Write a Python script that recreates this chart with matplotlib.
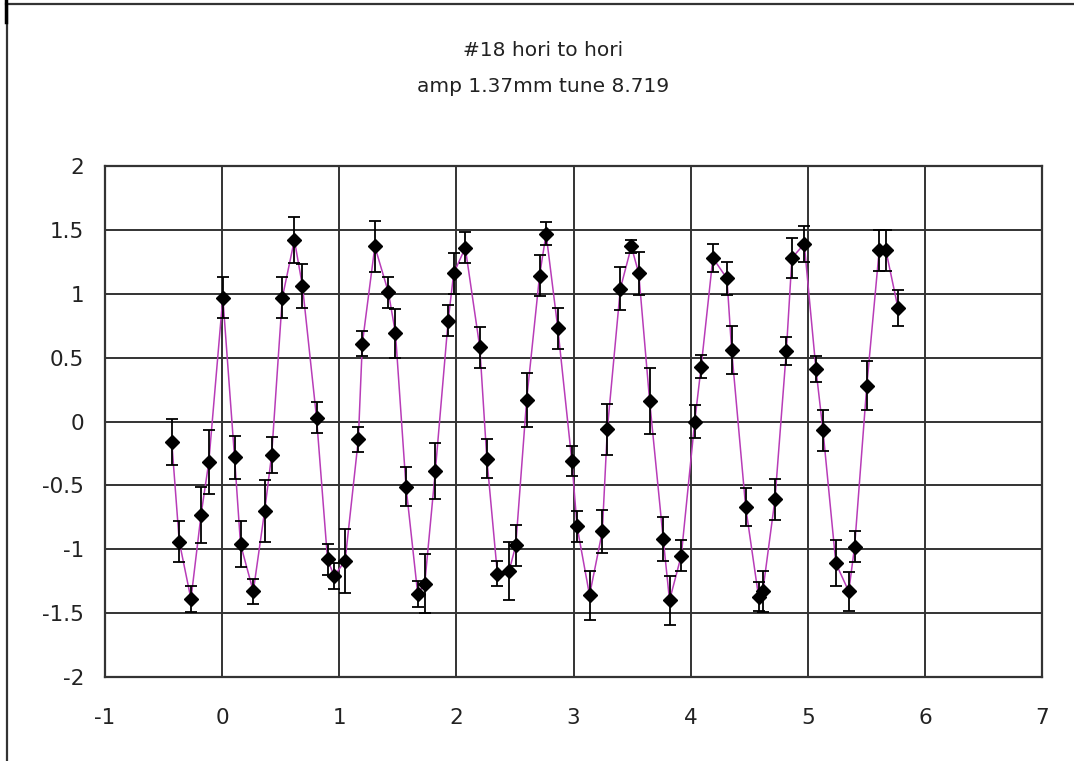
import matplotlib
matplotlib.use('Agg')
import matplotlib.pyplot as plt
from matplotlib.lines import Line2D

plt.rcParams['axes.unicode_minus'] = False
plt.rcParams['font.family'] = ['DejaVu Sans']

TITLE_1 = '#18 hori to hori'
TITLE_2 = 'amp 1.37mm tune 8.719'

# turn number vs. measured position, with per-point error
turns = [-0.43, -0.366, -0.266, -0.18, -0.114, 0.006, 0.106, 0.157, 0.266, 0.363,
         0.423, 0.514, 0.617, 0.686, 0.806, 0.90, 0.957, 1.05, 1.163, 1.197,
         1.304, 1.42, 1.48, 1.57, 1.67, 1.73, 1.82, 1.93, 1.977, 2.076,
         2.20, 2.26, 2.35, 2.45, 2.507, 2.60, 2.71, 2.766, 2.866, 2.986,
         3.03, 3.137, 3.246, 3.289, 3.40, 3.494, 3.557, 3.65, 3.766, 3.82,
         3.92, 4.035, 4.09, 4.19, 4.31, 4.35, 4.47, 4.58, 4.616, 4.72,
         4.817, 4.865, 4.97, 5.07, 5.13, 5.24, 5.35, 5.40, 5.504, 5.61,
         5.667, 5.77]
pos = [-0.16, -0.94, -1.39, -0.73, -0.32, 0.97, -0.28, -0.96, -1.33, -0.70,
       -0.26, 0.97, 1.42, 1.06, 0.03, -1.08, -1.21, -1.09, -0.14, 0.61,
       1.37, 1.01, 0.69, -0.51, -1.35, -1.27, -0.39, 0.79, 1.16, 1.36,
       0.58, -0.29, -1.19, -1.17, -0.97, 0.17, 1.14, 1.47, 0.73, -0.31,
       -0.82, -1.36, -0.86, -0.06, 1.04, 1.37, 1.16, 0.16, -0.92, -1.40,
       -1.05, 0.00, 0.43, 1.28, 1.12, 0.56, -0.67, -1.37, -1.33, -0.61,
       0.55, 1.28, 1.39, 0.41, -0.07, -1.11, -1.33, -0.98, 0.28, 1.34,
       1.34, 0.89]
err = [0.18, 0.16, 0.10, 0.22, 0.25, 0.16, 0.17, 0.18, 0.10, 0.24,
       0.14, 0.16, 0.18, 0.17, 0.12, 0.12, 0.10, 0.25, 0.10, 0.10,
       0.20, 0.12, 0.19, 0.15, 0.10, 0.23, 0.22, 0.12, 0.16, 0.12,
       0.16, 0.15, 0.10, 0.23, 0.16, 0.21, 0.16, 0.09, 0.16, 0.12,
       0.12, 0.19, 0.17, 0.20, 0.17, 0.05, 0.17, 0.26, 0.17, 0.19,
       0.12, 0.13, 0.09, 0.11, 0.13, 0.19, 0.15, 0.11, 0.16, 0.16,
       0.11, 0.16, 0.14, 0.10, 0.16, 0.18, 0.15, 0.12, 0.19, 0.16,
       0.16, 0.14]

x_ticks = [-1, 0, 1, 2, 3, 4, 5, 6, 7]
y_ticks = [-2, -1.5, -1, -0.5, 0, 0.5, 1, 1.5, 2]
y_labels = ['-2', '-1.5', '-1', '-0.5', '0', '0.5', '1', '1.5', '2']

W, H = 1074, 761
fig = plt.figure(figsize=(W / 100, H / 100), dpi=100)
ax = fig.add_axes([105 / W, 1 - 677 / H, 937 / W, 511 / H])

ax.plot(turns, pos, color='#b83cb8', lw=1.1, zorder=2)
ax.errorbar(turns, pos, yerr=err, fmt='D', color='black', ms=6.8,
            ecolor='black', elinewidth=1.3, capsize=4.5, capthick=1.3, zorder=3)

ax.set_xlim(-1, 7)
ax.set_ylim(-2, 2)
ax.set_xticks(x_ticks)
ax.set_xticklabels([str(v) for v in x_ticks])
ax.set_yticks(y_ticks)
ax.set_yticklabels(y_labels)
ax.tick_params(length=0, labelsize=15.5, colors='#222222')
ax.tick_params(axis='y', pad=15)
ax.tick_params(axis='x', pad=22)
ax.grid(True, color='#333333', lw=1.4)
ax.set_axisbelow(True)
for s in ax.spines.values():
    s.set_color('#333333')
    s.set_linewidth(1.6)

fig.text(543 / W, 1 - 51 / H, TITLE_1, ha='center', va='center',
         fontsize=14.5, color='#222222')
fig.text(543 / W, 1 - 86 / H, TITLE_2, ha='center', va='center',
         fontsize=14.5, color='#222222')

# chart area frame
fig.add_artist(Line2D([6 / W, 1], [1 - 3.5 / H] * 2, color='#333333', lw=1.6))
fig.add_artist(Line2D([7.5 / W] * 2, [0, 1 - 3.5 / H], color='#333333', lw=1.6))
fig.add_artist(Line2D([5.5 / W] * 2, [1 - 22 / H, 1], color='black', lw=2.5))

fig.savefig('out.png', dpi=100)
